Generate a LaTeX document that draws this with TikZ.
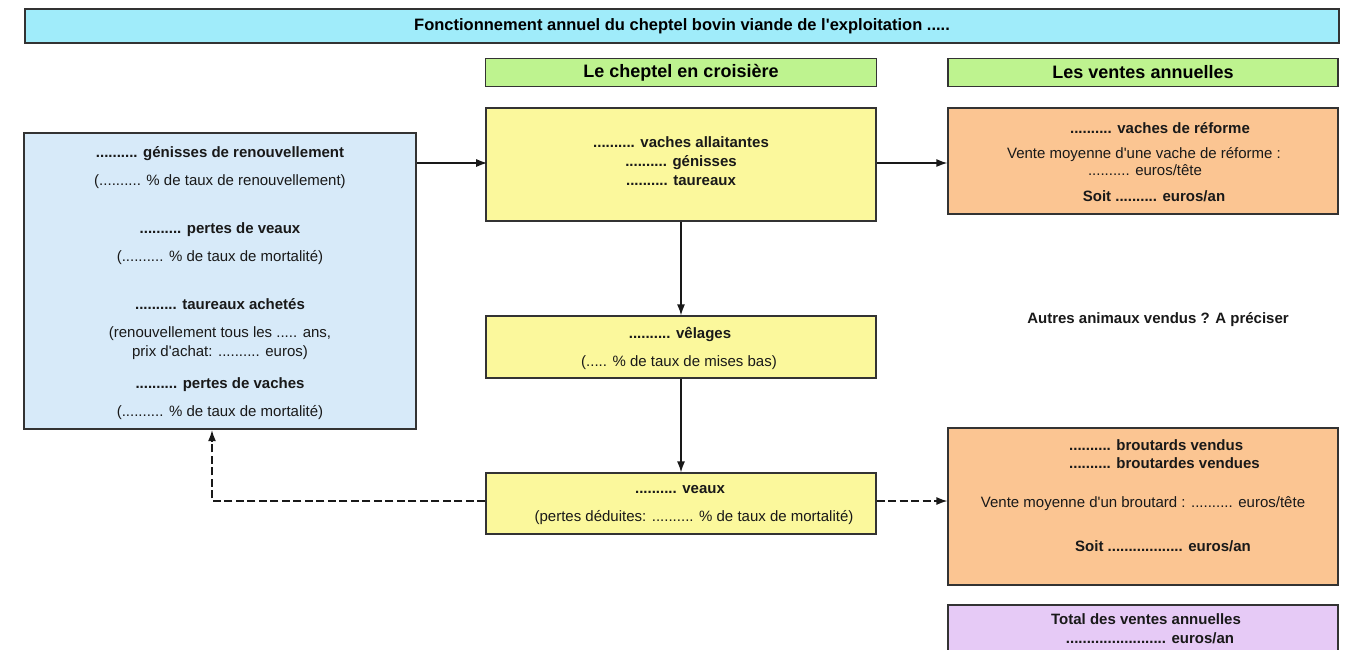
\documentclass[tikz,border=0pt]{standalone}
\usepackage{fontspec}
\setmainfont{Liberation Sans}[Ligatures=TeXOff]
\usetikzlibrary{arrows.meta}
\definecolor{titlecyan}{HTML}{A0ECFA}
\definecolor{hdrgreen}{HTML}{BEF38F}
\definecolor{yelbox}{HTML}{FBF89C}
\definecolor{orabox}{HTML}{FBC592}
\definecolor{blubox}{HTML}{D7EAF9}
\definecolor{purbox}{HTML}{E6CAF6}
\definecolor{edge}{HTML}{333333}
\begin{document}
\begin{tikzpicture}[x=1pt,y=-1pt,
  box/.style={draw=edge, line width=1.3pt, inner sep=0pt},
  tl/.style={anchor=base, inner sep=0pt, font=\fontsize{15}{18}\selectfont, text=black!90},
  tb/.style={tl, font=\fontsize{15}{18}\selectfont\bfseries},
  arr/.style={draw=black!90, line width=1.3pt, -{Latex[length=11pt,width=8pt]}},
  darr/.style={arr, dash pattern=on 8pt off 3.5pt}]
\useasboundingbox (0,0) rectangle (1351,649);
\fill[white] (0,0) rectangle (1351,649);

% title and headers
\node[box, fill=titlecyan, minimum width=1314pt, minimum height=34pt,
      font=\fontsize{16.5}{18}\selectfont\bfseries] (title) at (682,26)
      {Fonctionnement annuel du cheptel bovin viande de l'exploitation .....};
\node[box, fill=hdrgreen, minimum width=391pt, minimum height=28pt,
      font=\fontsize{18}{20}\selectfont\bfseries] (hdr1) at (681,72.5) {Le cheptel en croisière};
\node[box, fill=hdrgreen, minimum width=390pt, minimum height=28pt,
      font=\fontsize{18}{20}\selectfont\bfseries] (hdr2) at (1143,72.5) {Les ventes annuelles};

% boxes
\node[box, fill=blubox, line width=2.4pt, minimum width=392pt, minimum height=296pt] (left) at (220,281) {};
\node[box, fill=yelbox, minimum width=390pt, minimum height=113pt] (herd) at (681,164.5) {};
\node[box, fill=yelbox, minimum width=390pt, minimum height=62pt] (velages) at (681,347) {};
\node[box, fill=yelbox, minimum width=390pt, minimum height=61pt] (veaux) at (681,503.5) {};
\node[box, fill=orabox, minimum width=390pt, minimum height=106pt] (reforme) at (1143,161) {};
\node[box, fill=orabox, minimum width=390pt, minimum height=157pt] (brout) at (1143,506.5) {};
\node[box, fill=purbox, minimum width=390pt, minimum height=60pt] (total) at (1143,635) {};

% left box texts
\node[tb] (l1) at (220,157) {.......... génisses de renouvellement};
\node[tl] (l2) at (220,185) {(.......... \% de taux de renouvellement)};
\node[tb] (l3) at (220,233) {.......... pertes de veaux};
\node[tl] (l4) at (220,261) {(.......... \% de taux de mortalité)};
\node[tb] (l5) at (220,309) {.......... taureaux achetés};
\node[tl] (l6) at (220,337) {(renouvellement tous les ..... ans,};
\node[tl] (l7) at (220,356) {prix d'achat: .......... euros)};
\node[tb] (l8) at (220,388) {.......... pertes de vaches};
\node[tl] (l9) at (220,416) {(.......... \% de taux de mortalité)};

% herd texts
\node[tb] (h1) at (681,147) {.......... vaches allaitantes};
\node[tb] (h2) at (681,166) {.......... génisses};
\node[tb] (h3) at (681,185) {.......... taureaux};

\node[tb] (v1) at (680,338) {.......... vêlages};
\node[tl] (v2) at (679,366) {(..... \% de taux de mises bas)};

\node[tb] (c1) at (680,493) {.......... veaux};
\node[tl] (c2) at (694,521) {(pertes déduites: .......... \% de taux de mortalité)};

% sales
\node[tb] (r1) at (1160,133) {.......... vaches de réforme};
\node[tl] (r2) at (1144,158) {Vente moyenne d'une vache de réforme :};
\node[tl] (r3) at (1145,175) {.......... euros/tête};
\node[tb] (r4) at (1154,201) {Soit .......... euros/an};

\node[tb] (autres) at (1158,323) {Autres animaux vendus ? A préciser};

\node[tb, anchor=base west] (b1) at (1069,450) {.......... broutards vendus};
\node[tb, anchor=base west] (b2) at (1069,468) {.......... broutardes vendues};
\node[tl] (b3) at (1143,507) {Vente moyenne d'un broutard : .......... euros/tête};
\node[tb] (b4) at (1163,551) {Soit .................. euros/an};

\node[tb] (t1) at (1146,624) {Total des ventes annuelles};
\node[tb] (t2) at (1150,643) {........................ euros/an};

% connectors
\draw[arr] (herd.west -| left.east) ++(0,-1.5) -- ++(70,0);
\draw[arr] (herd.east) ++(0,-1.5) -- (reforme.west |- 0,163);
\draw[arr] (herd.south) -- (velages.north);
\draw[arr] (velages.south) -- (veaux.north);
\coordinate (up) at ([xshift=-8pt]left.south);
\draw[darr] (veaux.west |- 0,501) -| (up);
\draw[darr] (veaux.east |- 0,501) -- (brout.west |- 0,501);
\end{tikzpicture}
\end{document}
